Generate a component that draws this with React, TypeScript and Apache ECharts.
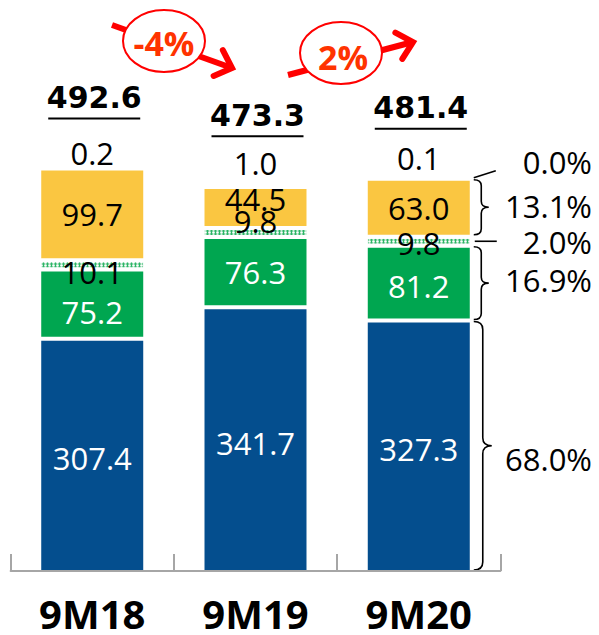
import React, { useEffect, useRef } from 'react';
import * as echarts from 'echarts';

const categories = ['9M18', '9M19', '9M20'];
const blueValues = [307.4, 341.7, 327.3];
const greenValues = [75.2, 76.3, 81.2];
const hatchValues = [10.1, 9.8, 9.8];
const yellowValues = [99.7, 44.5, 63.0];
const topValues = [0.2, 1.0, 0.1];
const totalLabels = ['492.6', '473.3', '481.4'];
const growthLabels = ['-4%', '2%'];
// shares for 9M20, from top segment to bottom segment
const shareLabels = ['0.0%', '13.1%', '2.0%', '16.9%', '68.0%'];

const Y_MIN = 55;
const Y_MAX = 600;
const BAR_W = 106;

const Brace = echarts.graphic.extendShape({
  shape: { x: 0, y1: 0, y2: 0, w: 16, r: 6 },
  buildPath(ctx: any, s: any) {
    const x = s.x, y1 = s.y1, y2 = s.y2, w = s.w;
    const m = (y1 + y2) / 2;
    const h = w / 2;
    const r = Math.min(s.r, (y2 - y1) / 4);
    ctx.moveTo(x, y1);
    ctx.quadraticCurveTo(x + h, y1, x + h, y1 + r);
    ctx.lineTo(x + h, m - r);
    ctx.quadraticCurveTo(x + h, m, x + w, m);
    ctx.moveTo(x + w, m);
    ctx.quadraticCurveTo(x + h, m, x + h, m + r);
    ctx.lineTo(x + h, y2 - r);
    ctx.quadraticCurveTo(x + h, y2, x, y2);
  },
});
echarts.graphic.registerShape('brace', Brace as any);

function arrowEls(x1: number, y1: number, x2: number, y2: number) {
  const a = Math.atan2(y2 - y1, x2 - x1);
  const L = 20;
  const sp = 0.75;
  return [
    {
      type: 'line',
      shape: { x1, y1, x2: x2 - 3 * Math.cos(a), y2: y2 - 3 * Math.sin(a) },
      style: { stroke: '#FF0000', lineWidth: 6 },
      z: 10,
    },
    {
      type: 'polyline',
      shape: {
        points: [
          [x2 - L * Math.cos(a - sp), y2 - L * Math.sin(a - sp)],
          [x2, y2],
          [x2 - L * Math.cos(a + sp), y2 - L * Math.sin(a + sp)],
        ],
      },
      style: { stroke: '#FF0000', fill: 'none', lineWidth: 6, lineJoin: 'miter', lineCap: 'round' },
      z: 10,
    },
  ];
}

function bubble(cx: number, cy: number, text: string, tx: number, ty: number) {
  return [
    {
      type: 'ellipse',
      shape: { cx, cy, rx: 41, ry: 31 },
      style: { fill: '#fff', stroke: '#FF0000', lineWidth: 2 },
      z: 11,
    },
    {
      type: 'text',
      style: {
        text,
        x: tx,
        y: ty,
        align: 'center',
        verticalAlign: 'middle',
        fontSize: 34,
        fontWeight: 'bold',
        fontFamily: 'Open Sans',
        fill: '#FF3300',
      },
      z: 12,
    },
  ];
}

const hatchShift = [7, -12, 2];
const yellowShift = [0, -9, 0];
const greenShift = [8, 0, 3];
const topDistance = [0, 8, 5];
const fmt1 = (p: any) => Number(p.value).toFixed(1);

export default function App() {
  const ref = useRef<HTMLDivElement>(null);
  useEffect(() => {
    if (!ref.current) return;
    const chart = echarts.init(ref.current, null, { renderer: 'svg' });
    const labelBase = {
      show: true,
      position: 'inside',
      fontSize: 31,
      fontFamily: 'Open Sans',
      textBorderWidth: 0,
      formatter: fmt1,
    };
    const border = { borderColor: '#fff', borderWidth: 2 };
    chart.setOption({
      animation: false,
      textStyle: { fontFamily: 'Open Sans' },
      grid: { left: 10.6, right: 98.6, top: 69.6, bottom: 64 },
      xAxis: {
        type: 'category',
        data: categories,
        z: 5,
        axisLine: { lineStyle: { color: '#A6A6A6', width: 2 } },
        axisTick: { show: true, inside: true, length: 17, lineStyle: { color: '#A6A6A6', width: 2 } },
        axisLabel: {
          fontSize: 40, lineHeight: 30, fontWeight: 'bold', color: '#000', margin: 27, fontFamily: 'Open Sans',
        },
      },
      yAxis: { type: 'value', min: Y_MIN, max: Y_MAX, show: false, splitLine: { show: false } },
      series: [
        {
          type: 'bar', stack: 's', barWidth: BAR_W, data: blueValues,
          itemStyle: { color: '#044E8E', ...border },
          label: { ...labelBase, color: '#fff', offset: [0, 3] },
        },
        {
          type: 'bar', stack: 's', barWidth: BAR_W,
          data: greenValues.map((v, i) => ({ value: v, label: { offset: [0, greenShift[i]] } })),
          itemStyle: { color: '#00A650', ...border },
          label: { ...labelBase, color: '#fff' },
        },
        {
          type: 'bar', stack: 's', barWidth: BAR_W,
          data: hatchValues.map((v, i) => ({ value: v, label: { offset: [0, hatchShift[i]] } })),
          itemStyle: {
            color: '#2DB566', ...border,
            decal: { symbol: 'circle', symbolSize: 0.9, color: '#ffffff', dashArrayX: [3, 1], dashArrayY: [3, 0], rotation: 0 },
          },
          label: { ...labelBase, color: '#000' },
          z: 3,
        },
        {
          type: 'bar', stack: 's', barWidth: BAR_W,
          data: yellowValues.map((v, i) => ({ value: v, label: { offset: [0, yellowShift[i]] } })),
          itemStyle: { color: '#FAC641', ...border },
          label: { ...labelBase, color: '#000' },
        },
        {
          type: 'bar', stack: 's', barWidth: BAR_W,
          data: topValues.map((v, i) => ({ value: v, label: { distance: topDistance[i] } })),
          itemStyle: { color: 'rgba(0,0,0,0)' },
          label: { ...labelBase, position: 'top', color: '#000' },
        },
      ],
    });

    const px = (i: number, v: number) => chart.convertToPixel({ gridIndex: 0 }, [i, v]) as number[];
    const graphics: any[] = [];
    categories.forEach((_, i) => {
      const sum = blueValues[i] + greenValues[i] + hatchValues[i] + yellowValues[i] + topValues[i];
      const [x, y] = px(i, sum);
      graphics.push({
        type: 'text',
        style: {
          text: totalLabels[i], x: x + 2, y: y - 71, align: 'center', verticalAlign: 'middle',
          fontSize: 30, fontWeight: 'bold', fontFamily: 'DejaVu Sans', fill: '#000',
        },
      });
      graphics.push({
        type: 'line',
        shape: { x1: x + 2 - 46, y1: y - 50, x2: x + 2 + 46, y2: y - 50 },
        style: { stroke: '#000', lineWidth: 2 },
      });
    });

    // braces for the last bar
    const k = 2;
    const [cx] = px(k, Y_MIN);
    const xr = cx + BAR_W / 2 + 2;
    const yBase = px(k, Y_MIN)[1];
    const yBlue = px(k, blueValues[k])[1];
    const yGreen = px(k, blueValues[k] + greenValues[k])[1];
    const yHatch = px(k, blueValues[k] + greenValues[k] + hatchValues[k])[1];
    const yYellow = px(k, blueValues[k] + greenValues[k] + hatchValues[k] + yellowValues[k])[1];
    const braceStyle = { stroke: '#000', fill: 'none', lineWidth: 1.6 };
    graphics.push({ type: 'brace', shape: { x: xr, y1: yYellow + 1, y2: yHatch - 2, w: 15, r: 6 }, style: braceStyle });
    graphics.push({ type: 'brace', shape: { x: xr, y1: yGreen + 1, y2: yBlue - 1, w: 15, r: 6 }, style: braceStyle });
    graphics.push({ type: 'brace', shape: { x: xr, y1: yBlue + 1, y2: yBase - 1, w: 18, r: 8 }, style: braceStyle });
    graphics.push({ type: 'line', shape: { x1: xr, y1: yYellow - 1, x2: xr + 22, y2: yYellow - 8 }, style: { stroke: '#000', lineWidth: 1.6 } });
    const yH = (yHatch + yGreen) / 2;
    graphics.push({ type: 'line', shape: { x1: xr + 1, y1: yH, x2: xr + 23, y2: yH }, style: { stroke: '#000', lineWidth: 1.6 } });
    const shareY = [yYellow - 17, (yYellow + yHatch) / 2 - 2, yH + 1, (yGreen + yBlue) / 2 - 3, (yBlue + yBase) / 2 + 13];
    shareLabels.forEach((t, j) => {
      graphics.push({
        type: 'text',
        style: {
          text: t, x: 592, y: shareY[j], align: 'right', verticalAlign: 'middle',
          fontSize: 31, fontFamily: 'Open Sans', fill: '#000',
        },
      });
    });

    // growth annotations
    graphics.push(...arrowEls(112, 25, 232, 68));
    graphics.push(...bubble(164, 41, growthLabels[0], 164, 43));
    graphics.push(...arrowEls(288, 75, 413, 42));
    graphics.push(...bubble(341, 53, growthLabels[1], 343, 57));

    chart.setOption({ graphic: graphics });
    return () => chart.dispose();
  }, []);
  return <div ref={ref} style={{ position: 'absolute', left: 0, top: 0, width: 599, height: 635 }} />;
}
